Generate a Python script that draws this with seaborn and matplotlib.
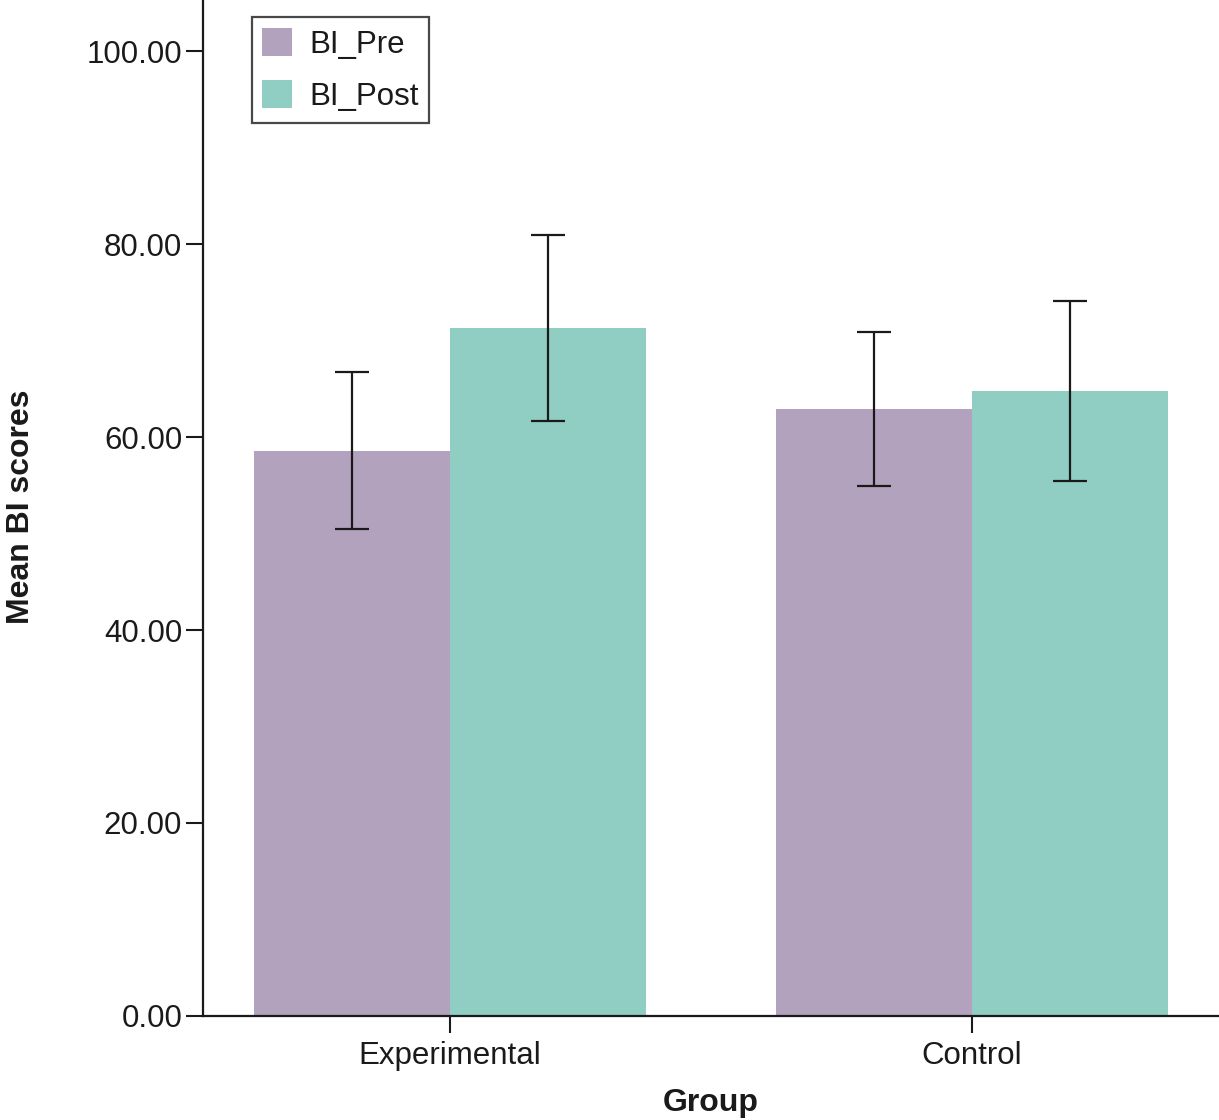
import matplotlib
matplotlib.use("Agg")
import matplotlib.pyplot as plt
import seaborn as sns
import pandas as pd

# data
groups = ["Experimental", "Control"]
times = ["BI_Pre", "BI_Post"]
pre_means = [58.6, 62.9]
post_means = [71.3, 64.8]
pre_err = [8.1, 8.0]
post_err = [9.6, 9.35]
colors = ["#B3A2BD", "#90CDC2"]

df = pd.DataFrame({
    "Group": groups * 2,
    "Time": [times[0]] * 2 + [times[1]] * 2,
    "Score": pre_means + post_means,
})
errs = pre_err + post_err

sns.set_style("white")
plt.rcParams["font.family"] = ["Liberation Sans", "DejaVu Sans"]

fig = plt.figure(figsize=(12.19, 11.2), dpi=100)
ax = fig.add_axes([0.1665, 0.0929, 0.8335, 0.9071])

sns.barplot(data=df, x="Group", y="Score", hue="Time", order=groups,
            hue_order=times, palette=colors, width=0.75, errorbar=None,
            saturation=1, linewidth=0, ax=ax)

# error bars centred on each bar
bars = [p for p in ax.patches if p.get_width() > 0][:4]
for bar, e in zip(bars, errs):
    xc = bar.get_x() + bar.get_width() / 2
    ax.errorbar(xc, bar.get_height(), yerr=e, fmt="none", ecolor="#1a1a1a",
                elinewidth=1.6, capsize=12.5, capthick=1.6)

ax.set_xlim(-0.473, 1.473)
ax.set_ylim(0, 105.3)
ax.set_yticks([0, 20, 40, 60, 80, 100])
ax.set_yticklabels([f"{v:.2f}" for v in [0, 20, 40, 60, 80, 100]])
ax.tick_params(axis="both", direction="out", length=12, width=1.5,
               labelsize=22.5, color="#1a1a1a", labelcolor="#1a1a1a",
               bottom=True, left=True)
ax.tick_params(axis="y", pad=3)
ax.tick_params(axis="x", pad=6)

for side in ["top", "right"]:
    ax.spines[side].set_visible(False)
for side in ["left", "bottom"]:
    ax.spines[side].set_linewidth(1.6)
    ax.spines[side].set_color("#1a1a1a")

ax.set_xlabel("Group", fontsize=23, fontweight="bold", labelpad=12,
              color="#1a1a1a")
ax.set_ylabel("Mean BI scores", fontsize=23, fontweight="bold",
              color="#1a1a1a")
ax.yaxis.set_label_coords(-0.164, 0.501)

leg = ax.legend(loc="upper left", bbox_to_anchor=(0.048, 0.983), fontsize=22.5,
                frameon=True, fancybox=False, handlelength=0.95, handleheight=1.0,
                borderpad=0.34, labelspacing=0.66, handletextpad=0.55,
                borderaxespad=0)
leg.get_frame().set_edgecolor("#1a1a1a")
leg.get_frame().set_linewidth(1.6)
for t in leg.get_texts():
    t.set_color("#1a1a1a")

fig.savefig("out.png", dpi=100)
